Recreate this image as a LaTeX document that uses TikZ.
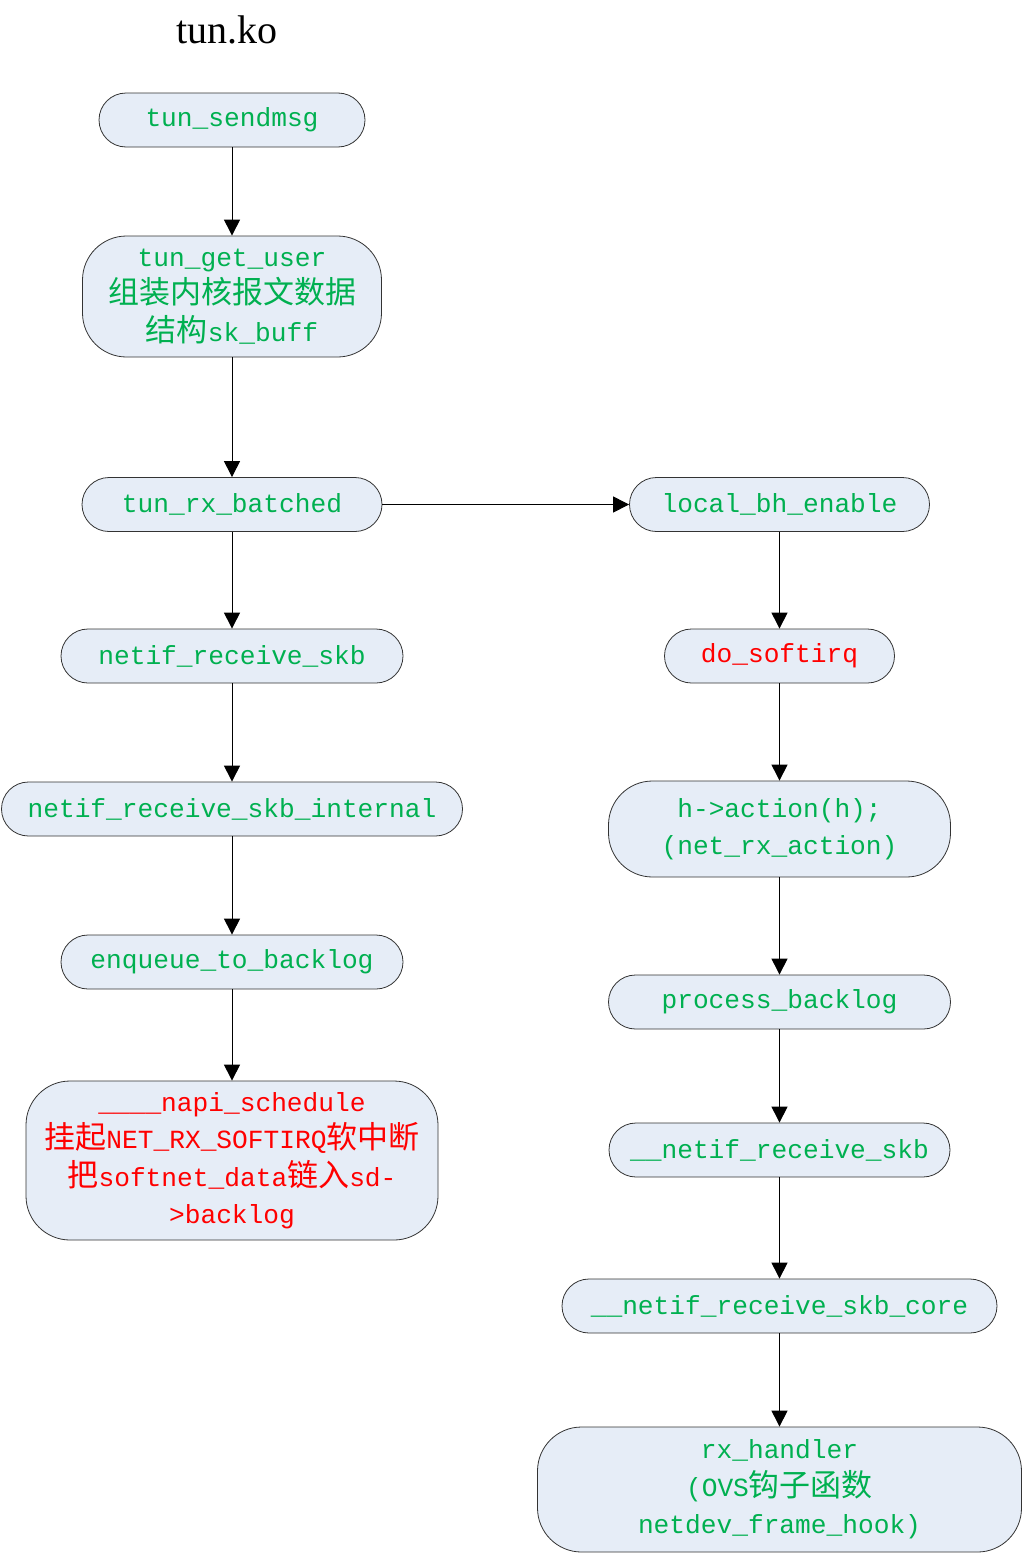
\documentclass[tikz,border=0pt]{standalone}
\usepackage{fontspec}
\setmainfont{Liberation Mono}
\newfontfamily\titlefont{Liberation Serif}
\newfontfamily\cjkfont{Noto Sans CJK SC}
\usetikzlibrary{arrows.meta}
\definecolor{boxfill}{RGB}{230,237,247}
\definecolor{fngreen}{RGB}{0,176,80}
\definecolor{fnred}{RGB}{255,0,0}
\newcommand{\zh}[1]{{\cjkfont\fontsize{15.5pt}{18.75pt}\selectfont #1}}
\tikzset{
  fnbox/.style={draw=black!80, fill=boxfill, rounded corners=13.5pt, minimum height=27pt,
    inner sep=0pt, align=center, text=fngreen, font=\fontsize{13.1pt}{18.75pt}\selectfont},
  tallbox/.style={fnbox, rounded corners=22pt},
  hot/.style={text=fnred},
  flow/.style={-{Triangle[length=8pt,width=8pt]}, black, line width=0.5pt},
}

\begin{document}
\begin{tikzpicture}[x=0.5pt,y=-0.5pt]
			%%%%% START %%%%%
			\useasboundingbox (0,0) rectangle (1024,1558);
			
			\node[font=\titlefont\fontsize{20pt}{24pt}\selectfont] (title) at (227,30) {tun.ko};
			
			% left column: tun.ko side
			\node[fnbox, minimum width=133pt] (sendmsg) at (232,120) {tun\_sendmsg};
			\node[tallbox, minimum width=149.5pt, minimum height=60.5pt] (getuser) at (232,296.5)
				{tun\_get\_user\\\zh{组装内核报文数据}\\\zh{结构}sk\_buff};
			\node[fnbox, minimum width=150pt] (rxbatched) at (232,504.5) {tun\_rx\_batched};
			\node[fnbox, minimum width=171pt] (recvskb) at (232,656) {netif\_receive\_skb};
			\node[fnbox, minimum width=230.5pt] (internal) at (232,809) {netif\_receive\_skb\_internal};
			\node[fnbox, minimum width=171pt] (enqueue) at (232,962) {enqueue\_to\_backlog};
			\node[tallbox, hot, minimum width=206pt, minimum height=79.5pt] (napi) at (232,1160.5)
				{\_\_\_\_napi\_schedule\\\zh{挂起}NET\_RX\_SOFTIRQ\zh{软中断}\\\zh{把}softnet\_data\zh{链入}sd-\\>backlog};
			
			% right column: softirq side
			\node[fnbox, minimum width=150pt] (localbh) at (779.5,504.5) {local\_bh\_enable};
			\node[fnbox, hot, minimum width=115pt] (softirq) at (779.5,656) {do\_softirq};
			\node[tallbox, minimum width=171pt, minimum height=48pt] (action) at (779.5,829)
				{h->action(h);\\(net\_rx\_action)};
			\node[fnbox, minimum width=171pt] (backlog) at (779.5,1002) {process\_backlog};
			\node[fnbox, minimum width=170.5pt] (nrskb) at (779.5,1150) {\_\_netif\_receive\_skb};
			\node[fnbox, minimum width=217.5pt] (core) at (779.5,1306) {\_\_netif\_receive\_skb\_core};
			\node[tallbox, minimum width=242pt, minimum height=62.5pt] (rxhandler) at (779.5,1489.5)
				{rx\_handler\\(OVS\zh{钩子函数}\\netdev\_frame\_hook)};
			
			\draw[flow] (sendmsg) -- (getuser);
			\draw[flow] (getuser) -- (rxbatched);
			\draw[flow] (rxbatched) -- (recvskb);
			\draw[flow] (recvskb) -- (internal);
			\draw[flow] (internal) -- (enqueue);
			\draw[flow] (enqueue) -- (napi);
			
			\draw[flow] (rxbatched) -- (localbh);
			
			\draw[flow] (localbh) -- (softirq);
			\draw[flow] (softirq) -- (action);
			\draw[flow] (action) -- (backlog);
			\draw[flow] (backlog) -- (nrskb);
			\draw[flow] (nrskb) -- (core);
			\draw[flow] (core) -- (rxhandler);
			
			%%%%% END %%%%%
\end{tikzpicture}
\end{document}
